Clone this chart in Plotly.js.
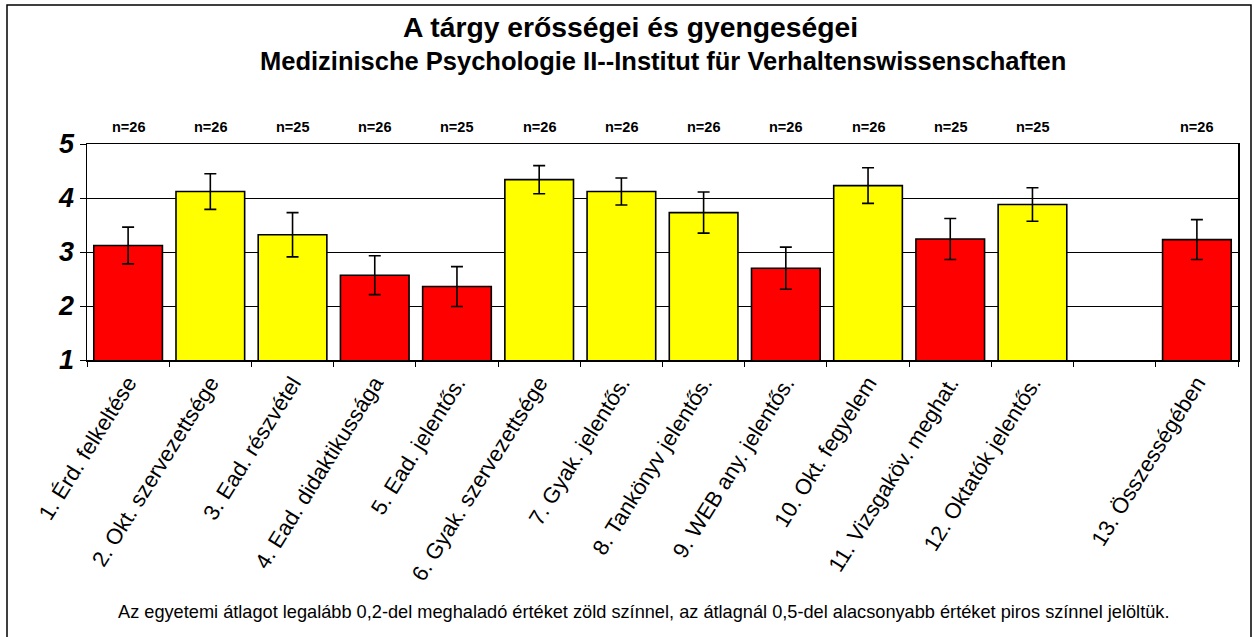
<!DOCTYPE html>
<html>
<head>
<meta charset="utf-8">
<script src="https://cdn.plot.ly/plotly-3.0.1.min.js"></script>
<style>
  html, body { margin: 0; padding: 0; background: #fff; }
  #chart { width: 1254px; height: 637px; }
</style>
</head>
<body>
<div id="chart"></div>
<script>
// ---- data ----
const categories = [
  "1. Érd. felkeltése",
  "2. Okt. szervezettsége",
  "3. Ead. részvétel",
  "4. Ead. didaktikussága",
  "5. Ead. jelentős.",
  "6. Gyak. szervezettsége",
  "7. Gyak. jelentős.",
  "8. Tankönyv jelentős.",
  "9. WEB any. jelentős.",
  "10. Okt. fegyelem",
  "11. Vizsgaköv. meghat.",
  "12. Oktatók jelentős.",
  " ",
  "13. Összességében"
];
const means  = [3.12, 4.12, 3.32, 2.57, 2.36, 4.34, 4.12, 3.73, 2.70, 4.23, 3.24, 3.88, null, 3.23];
const errors = [0.34, 0.33, 0.41, 0.36, 0.37, 0.26, 0.25, 0.38, 0.39, 0.33, 0.38, 0.31, null, 0.37];
const nLabels = ["n=26","n=26","n=25","n=26","n=25","n=26","n=26","n=26","n=26","n=26","n=25","n=25", null, "n=26"];
const barColors = ["#FF0000","#FFFF00","#FFFF00","#FF0000","#FF0000","#FFFF00","#FFFF00","#FFFF00","#FF0000","#FFFF00","#FF0000","#FFFF00","#FFFFFF","#FF0000"];
const titleLine1 = "A tárgy erősségei és gyengeségei";
const titleLine2 = "Medizinische Psychologie II--Institut für Verhaltenswissenschaften";
const footnote = "Az egyetemi átlagot legalább 0,2-del meghaladó értéket zöld színnel, az átlagnál 0,5-del alacsonyabb értéket piros színnel jelöltük.";

// ---- layout helpers ----
const W = 1254, H = 637;
const M = {l: 87, r: 16, t: 144, b: 277};
const pw = W - M.l - M.r, ph = H - M.t - M.b;
const px2paperX = px => (px - M.l) / pw;
const px2paperY = py => (H - M.b - py) / ph;

const FONT = "Liberation Sans, Arial, sans-serif";

const trace = {
  type: "bar",
  x: categories,
  y: means,
  marker: { color: barColors, line: { color: "#000", width: 1.6 } },
  error_y: { type: "data", array: errors, visible: true, color: "#000", thickness: 1.6, width: 6 },
  hoverinfo: "x+y"
};

const annotations = [];
nLabels.forEach((t, i) => {
  if (t === null) return;
  annotations.push({
    x: categories[i], xref: "x", y: 1, yref: "paper",
    yanchor: "middle", yshift: 17, showarrow: false,
    text: t, font: { family: FONT, size: 14.5, color: "#000", weight: "bold" }
  });
});
annotations.push({
  xref: "paper", yref: "paper", x: px2paperX(630), y: px2paperY(27),
  xanchor: "center", yanchor: "middle", showarrow: false,
  text: titleLine1, font: { family: FONT, size: 28.3, color: "#000", weight: "bold" }
});
annotations.push({
  xref: "paper", yref: "paper", x: px2paperX(663), y: px2paperY(61),
  xanchor: "center", yanchor: "middle", showarrow: false,
  text: titleLine2, font: { family: FONT, size: 25.5, color: "#000", weight: "bold" }
});
annotations.push({
  xref: "paper", yref: "paper", x: px2paperX(643), y: px2paperY(612),
  xanchor: "center", yanchor: "middle", showarrow: false,
  text: footnote, font: { family: FONT, size: 18.2, color: "#000" }
});

const layout = {
  width: W, height: H,
  margin: M,
  paper_bgcolor: "#fff", plot_bgcolor: "#fff",
  showlegend: false,
  bargap: 0.165,
  font: { family: FONT, color: "#000" },
  xaxis: {
    type: "category",
    tickson: "boundaries",
    ticks: "outside", ticklen: 5, tickcolor: "#000", tickwidth: 1,
    tickangle: -58,
    tickfont: { family: FONT, size: 22, color: "#000" },
    showline: true, linecolor: "#000", linewidth: 1.5, mirror: true,
    showgrid: false, zeroline: false, fixedrange: true
  },
  yaxis: {
    range: [1, 5], dtick: 1, tick0: 1,
    ticks: "outside", ticklen: 6, tickcolor: "#000", tickwidth: 1,
    tickfont: { family: FONT, size: 27, color: "#000", weight: "bold", style: "italic" },
    showline: true, linecolor: "#000", linewidth: 1.5, mirror: true,
    showgrid: true, gridcolor: "#000", gridwidth: 1,
    zeroline: false, fixedrange: true
  },
  annotations: annotations,
  shapes: [{
    type: "rect", xref: "paper", yref: "paper",
    x0: px2paperX(7), x1: px2paperX(1251),
    y0: px2paperY(640), y1: px2paperY(5),
    line: { color: "#000", width: 1.5 }, fillcolor: "rgba(0,0,0,0)", layer: "above"
  }]
};

Plotly.newPlot("chart", [trace], layout, { displayModeBar: false, staticPlot: true });
</script>
</body>
</html>
